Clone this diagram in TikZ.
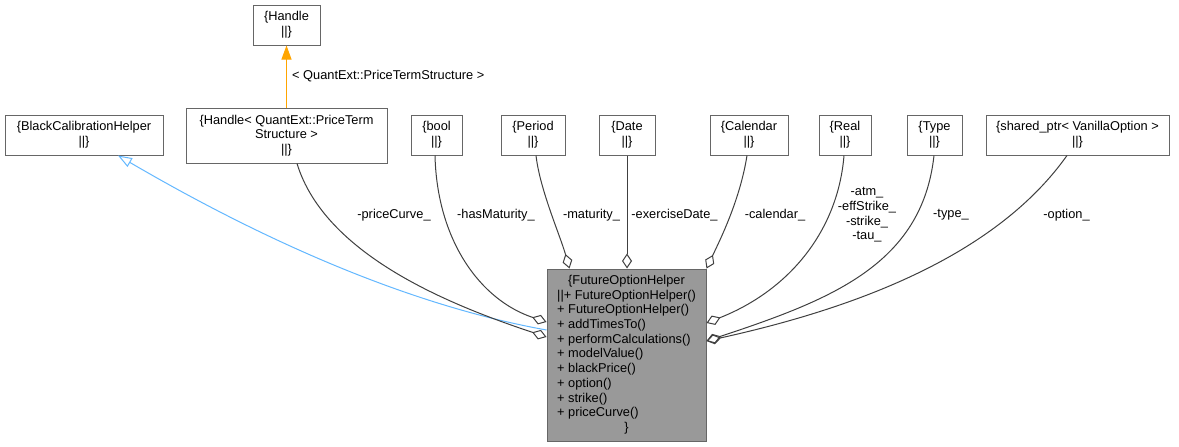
\documentclass[tikz,border=0pt]{standalone}
\usepackage{fontspec}
\setmainfont{Liberation Sans}
\usetikzlibrary{arrows.meta,calc}
\definecolor{boxgray}{HTML}{666666}
\definecolor{edgegray}{HTML}{404040}
\definecolor{inhblue}{HTML}{63B8FF}
\definecolor{fillgray}{HTML}{999999}
\definecolor{orng}{HTML}{FFA500}
\begin{document}
\begin{tikzpicture}[x=1pt,y=-1pt,font=\fontsize{12.8}{14.7}\selectfont,
  box/.style={draw=boxgray, line width=1pt, fill=white, inner sep=0pt, align=center, minimum height=40pt},
  mainbox/.style={draw=boxgray, line width=1pt, fill=fillgray, inner sep=0pt, minimum width=159pt, minimum height=172pt},
  agg/.style={draw=edgegray, line width=1pt, -{Diamond[open, length=15pt, width=10pt]}},
  inh/.style={draw=inhblue, line width=1pt, -{Triangle[open, length=14pt, width=10pt]}},
  tmpl/.style={draw=orng, line width=1pt, -{Triangle[length=14pt, width=10pt]}},
  lbl/.style={inner sep=0pt, align=center}]
\useasboundingbox (0,0) rectangle (1179,447);
\fill[white] (0,0) rectangle (1179,447);

% nodes
\node[box, minimum width=67pt] (handle) at (286.5,25) {\{Handle\\\textbar\textbar\}};
\node[box, minimum width=158pt] (bch) at (84,135) {\{BlackCalibrationHelper\\\textbar\textbar\}};
\node[box, minimum width=201pt, minimum height=55pt] (hpts) at (286.5,135.5) {\{Handle< QuantExt::PriceTerm\\Structure >\\\textbar\textbar\}};
\node[box, minimum width=51pt] (bool) at (436.5,135) {\{bool\\\textbar\textbar\}};
\node[box, minimum width=64pt] (period) at (533,135) {\{Period\\\textbar\textbar\}};
\node[box, minimum width=56pt] (date) at (627,135) {\{Date\\\textbar\textbar\}};
\node[box, minimum width=78pt] (calendar) at (749,135) {\{Calendar\\\textbar\textbar\}};
\node[box, minimum width=52pt] (real) at (845,135) {\{Real\\\textbar\textbar\}};
\node[box, minimum width=55pt] (type) at (934.5,135) {\{Type\\\textbar\textbar\}};
\node[box, minimum width=183pt] (sptr) at (1077.5,135) {\{shared\_ptr< VanillaOption >\\\textbar\textbar\}};
\renewcommand\arraystretch{1}
\node[mainbox] (main) at (626.5,355) {\begin{tabular}{@{}l@{}}
\multicolumn{1}{@{}c@{}}{\{FutureOptionHelper}\\
\textbar\textbar+ FutureOptionHelper()\\
+ FutureOptionHelper()\\
+ addTimesTo()\\
+ performCalculations()\\
+ modelValue()\\
+ blackPrice()\\
+ option()\\
+ strike()\\
+ priceCurve()\\
\multicolumn{1}{@{}c@{}}{\}}
\end{tabular}};

% template instantiation
\draw[tmpl] (hpts.north) -- (handle.south);
\node[lbl, anchor=west] (tlbl) at (292,76) {< QuantExt::PriceTermStructure >};

% inheritance
\draw[inh] ($(main.west)+(0,-25)$) .. controls (380,300) and (220,215) .. ($(bch.south)+(34,0)$);

% aggregations
\draw[agg] ($(hpts.south)+(10.5,0)$) .. controls (325,255) and (450,305) .. ($(main.west)+(0,-18)$);
\draw[agg] ($(bool.south)+(-1.5,0)$) .. controls (437,240) and (480,300) .. ($(main.west)+(0,-33)$);
\draw[agg] ($(period.south)+(3,0)$) .. controls (540,190) and (560,235) .. ($(main.north)+(-57,0)$);
\draw[agg] (date.south) -- (date.south |- main.north);
\draw[agg] ($(calendar.south)+(-2,0)$) .. controls (740,200) and (720,240) .. (main.north east);
\draw[agg] ($(real.south)+(-1,0)$) .. controls (838,230) and (790,290) .. ($(main.east)+(0,-32)$);
\draw[agg] ($(type.south)+(-0.5,0)$) .. controls (922,265) and (830,300) .. ($(main.east)+(0,-14)$);
\draw[agg] ($(sptr.south)+(-10.5,0)$) .. controls (1000,250) and (870,305) .. ($(main.east)+(0,-14)$);

% labels
\node[lbl] (l1) at (394,215) {-priceCurve\_};
\node[lbl] (l2) at (496,215) {-hasMaturity\_};
\node[lbl] (l3) at (591.5,215) {-maturity\_};
\node[lbl] (l4) at (674.5,215) {-exerciseDate\_};
\node[lbl] (l5) at (775,215) {-calendar\_};
\node[lbl] (l6) at (867,215) {-atm\_\\-effStrike\_\\-strike\_\\-tau\_};
\node[lbl] (l7) at (951,215) {-type\_};
\node[lbl] (l8) at (1066.5,215) {-option\_};
\end{tikzpicture}
\end{document}
